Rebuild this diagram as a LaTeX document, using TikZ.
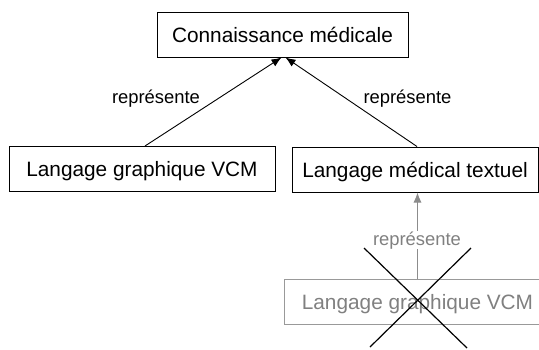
\documentclass[tikz,border=0pt]{standalone}
\usepackage{fontspec}
\setmainfont{Liberation Sans}
\usetikzlibrary{arrows.meta}
\begin{document}
\begin{tikzpicture}[x=1pt,y=-1pt,
  concept/.style={draw=black, line width=1pt, inner sep=0pt,
    minimum height=45pt, text height=15pt, text depth=0pt,
    font=\fontsize{20.8}{24}\selectfont},
  faded/.style={concept, draw=black!40, text=black!50},
  lbl/.style={inner sep=1pt, font=\fontsize{18.4}{22}\selectfont},
  rel/.style={line width=0.9pt, -{Latex[length=10pt,width=8pt]}},
  cross/.style={line width=1.2pt, draw=black}]
\useasboundingbox (0,0) rectangle (539,349);

% concept boxes
\node[concept, minimum width=251pt] (cm) at (282.5,34.5) {Connaissance médicale};
\node[concept, minimum width=266pt] (vcm) at (142,169) {Langage graphique VCM};
\node[concept, minimum width=246pt] (lmt) at (415,169.5) {Langage médical textuel};
\node[faded, minimum width=266pt] (vcm2) at (417.5,301.5) {Langage graphique VCM};

% "représente" relations
\draw[rel] ([xshift=3pt]vcm.north) -- ([xshift=-1pt]cm.south);
\draw[rel] ([xshift=2pt]lmt.north) -- ([xshift=3pt]cm.south);
\node[lbl, anchor=base] (r1) at (156,103) {représente};
\node[lbl, anchor=base] (r2) at (407.5,103) {représente};

% crossed-out relation
\draw[rel, draw=black!45, fill=black!45] (vcm2.north) -- (vcm2.north |- lmt.south);
\node[lbl, anchor=base, fill=white, text=black!50, inner sep=0.5pt] (r3) at (417,245) {représente};

\coordinate (xa) at (364,248);
\coordinate (xb) at (467,348);
\coordinate (xc) at (471,248);
\coordinate (xd) at (370,347);
\draw[cross] (xa) -- (xb);
\draw[cross] (xc) -- (xd);
\end{tikzpicture}
\end{document}
